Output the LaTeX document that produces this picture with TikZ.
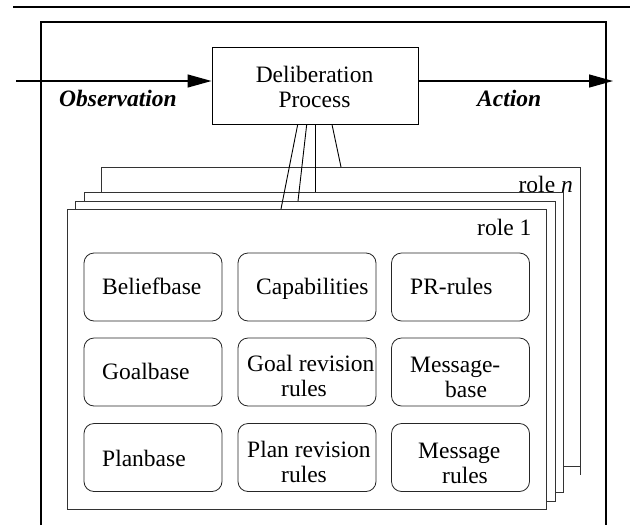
\documentclass[tikz,border=0pt]{standalone}
\usepackage{fontspec}
\setmainfont{Liberation Serif}
\usetikzlibrary{arrows.meta,calc}
\newcommand\tworows[3]{\begin{tabular}[t]{@{}l@{}}#1\\\hspace*{#2}#3\end{tabular}}
\begin{document}
\begin{tikzpicture}[x=1pt,y=-1pt,
  lbl/.style={inner sep=0pt, font=\fontsize{23.5}{25.5}\selectfont},
  bilbl/.style={inner sep=0pt, font=\fontsize{23.5}{25.5}\selectfont\bfseries\itshape},
  heavy/.style={line width=1.3pt},
  rolebox/.style={draw=black!80, fill=white, line width=0.9pt, inner sep=0pt, anchor=north west},
  rbox/.style={draw=black!85, line width=0.8pt, rounded corners=10pt, minimum width=138pt, minimum height=68pt, inner sep=0pt},
  procbox/.style={draw, line width=1pt, minimum width=206pt, minimum height=77pt, inner sep=0pt},
  flow/.style={heavy, -{Triangle[length=24pt,width=13pt]}},
  link/.style={line width=0.9pt}]
\useasboundingbox (0,0) rectangle (639,525);

% top rule and outer frame
\coordinate (ruleL) at (13,7);
\coordinate (ruleR) at (630,7);
\draw[line width=1.2pt] (ruleL) -- (ruleR);
\coordinate (frBL) at (41,525);
\coordinate (frTL) at (41,22);
\coordinate (frTR) at (606,22);
\coordinate (frBR) at (606,525);
\draw[heavy] (frBL) -- (frTL) -- (frTR) -- (frBR);

% deliberation process
\node[procbox] (delib) at (315,85.5) {};
\node[lbl, anchor=base] (delibt) at (314.5,82) {\begin{tabular}[t]{@{}c@{}}Deliberation\\Process\end{tabular}};

\coordinate (inL) at (16,81);
\coordinate (outR) at (613,81);
\draw[flow] (inL) -- (inL -| delib.west);
\draw[flow] (outR -| delib.east) -- (outR);
\node[bilbl, anchor=base west] (obs) at (59,106) {Observation};
\node[bilbl, anchor=base west] (act) at (477,106) {Action};

% stacked role frames
\node[rolebox, minimum width=479pt, minimum height=299pt] (roleN) at (101,167) {};
\draw[line width=0.9pt, black!80] (roleN.south east) -- ++(0,8);
\node[lbl, anchor=base east] (roleNl) at (573,192) {role \textit{n}};
\node[rolebox, minimum width=479pt, minimum height=300pt] (f3) at (84,192) {};
\node[rolebox, minimum width=480pt, minimum height=300pt] (f2) at (75,201) {};
\node[rolebox, minimum width=479pt, minimum height=300pt] (role1) at (67,209) {};
\node[lbl, anchor=base west] (role1l) at (477,235) {role 1};

% component boxes
\node[rbox] (bb)  at (153,287) {};
\node[rbox] (cap) at (307,287) {};
\node[rbox] (pr)  at (460.5,287) {};
\node[rbox] (gb)  at (153,372) {};
\node[rbox] (grr) at (307,372) {};
\node[rbox] (mb)  at (460.5,372) {};
\node[rbox] (pb)  at (153,457.5) {};
\node[rbox] (prr) at (307,457.5) {};
\node[rbox] (mr)  at (460.5,457.5) {};

\node[lbl, anchor=base west] (bbt)  at (102,294.5) {Beliefbase};
\node[lbl, anchor=base west] (capt) at (256,294.5) {Capabilities};
\node[lbl, anchor=base west] (prt)  at (410,294.5) {PR-rules};
\node[lbl, anchor=base west] (gbt)  at (102,379) {Goalbase};
\node[lbl, anchor=base west] (grrt) at (247,371) {\tworows{Goal revision}{34pt}{rules}};
\node[lbl, anchor=base west] (mbt)  at (410,372) {\tworows{Message-}{35pt}{base}};
\node[lbl, anchor=base west] (pbt)  at (102,466) {Planbase};
\node[lbl, anchor=base west] (prrt) at (247,457) {\tworows{Plan revision}{34pt}{rules}};
\node[lbl, anchor=base west] (mrt)  at (418,458) {\tworows{Message}{24pt}{rules}};

% links from deliberation process to the roles
\draw[link] ($(delib.south)+(-17.3,0)$) -- ($(role1.north west)+(214,0)$);
\draw[link] ($(delib.south)+(-8.3,0)$) -- ($(f2.north west)+(223,0)$);
\draw[link] ($(delib.south)+(0.3,0)$) -- ($(f3.north west)+(231.3,0)$);
\draw[link] ($(delib.south)+(17,0)$) -- ($(roleN.north west)+(240,0)$);
\end{tikzpicture}
\end{document}
